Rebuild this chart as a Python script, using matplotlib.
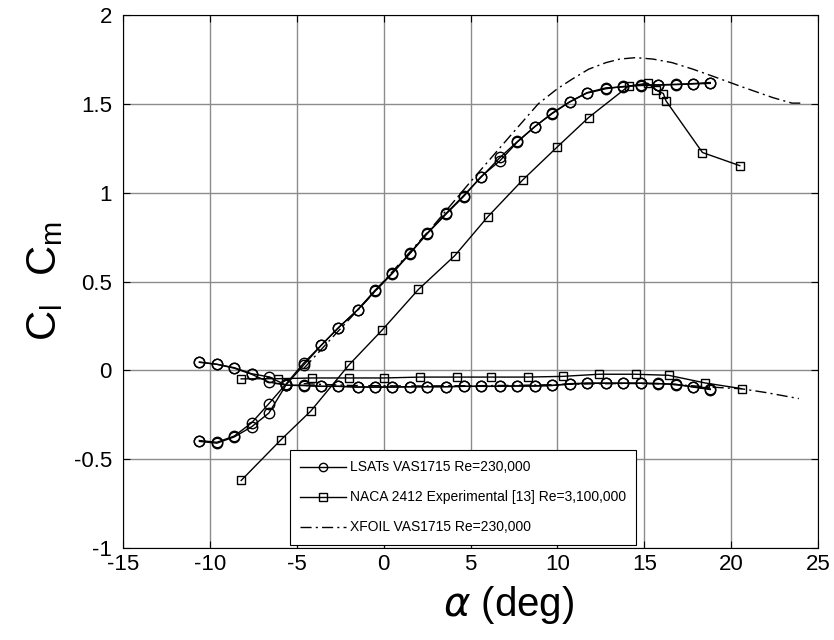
import matplotlib
matplotlib.use("Agg")
import matplotlib.pyplot as plt
from matplotlib.lines import Line2D

plt.rcParams['font.family'] = ['Liberation Sans', 'DejaVu Sans']
plt.rcParams['mathtext.fontset'] = 'dejavusans'

# LSATs VAS1715, sweep up
lsat_alpha_up = [-10.6, -9.6, -8.6, -7.6, -6.6, -5.6, -4.6, -3.6, -2.6, -1.5, -0.5, 0.5, 1.5, 2.5, 3.6,
                 4.6, 5.6, 6.7, 7.7, 8.7, 9.7, 10.7, 11.7, 12.8, 13.8, 14.8, 15.8, 16.8, 17.8, 18.8]
lsat_cl_up = [-0.40, -0.41, -0.375, -0.318, -0.24, -0.08, 0.03, 0.14, 0.24, 0.34, 0.45, 0.549, 0.659, 0.771, 0.884,
              0.983, 1.086, 1.198, 1.288, 1.371, 1.448, 1.511, 1.563, 1.59, 1.595, 1.607, 1.607, 1.61, 1.614, 1.62]
lsat_cm_up = [0.047, 0.034, 0.015, -0.019, -0.037, -0.084, -0.084, -0.09, -0.09, -0.094, -0.094, -0.094, -0.092, -0.092, -0.092,
              -0.09, -0.09, -0.09, -0.088, -0.088, -0.085, -0.075, -0.072, -0.072, -0.072, -0.072, -0.075, -0.078, -0.094, -0.108]
# LSATs VAS1715, sweep down
lsat_alpha_dn = [18.8, 17.8, 16.8, 15.8, 14.8, 13.8, 12.8, 11.7, 10.7, 9.7, 8.7, 7.7, 6.7, 5.6, 4.6,
                 3.6, 2.5, 1.5, 0.5, -0.5, -1.5, -2.6, -3.6, -4.6, -5.6, -6.6, -7.6, -8.6, -9.6, -10.6]
lsat_cl_dn = [1.615, 1.612, 1.608, 1.605, 1.603, 1.598, 1.585, 1.56, 1.51, 1.445, 1.372, 1.285, 1.18, 1.09, 0.978,
              0.88, 0.768, 0.655, 0.545, 0.444, 0.34, 0.24, 0.14, 0.041, -0.075, -0.187, -0.296, -0.37, -0.405, -0.395]
lsat_cm_dn = [-0.105, -0.092, -0.08, -0.074, -0.073, -0.073, -0.073, -0.073, -0.078, -0.085, -0.088, -0.088, -0.09, -0.09, -0.09,
              -0.092, -0.092, -0.093, -0.094, -0.094, -0.094, -0.09, -0.09, -0.086, -0.084, -0.066, -0.022, 0.012, 0.034, 0.045]

# NACA 2412 experimental
naca_alpha_cl = [-8.2, -5.9, -4.2, -2.0, -0.1, 2.0, 4.1, 6.0, 8.0, 10.0, 11.8, 14.1, 15.2, 15.7, 16.1, 16.25, 18.35, 20.5]
naca_cl = [-0.62, -0.39, -0.23, 0.03, 0.225, 0.455, 0.646, 0.865, 1.071, 1.258, 1.423, 1.60, 1.616, 1.577, 1.558, 1.517, 1.226, 1.152]
naca_alpha_cm = [-8.2, -6.1, -4.1, -2.0, 0.0, 2.1, 4.2, 6.2, 8.3, 10.3, 12.4, 14.5, 16.4, 18.5, 20.6]
naca_cm = [-0.048, -0.047, -0.043, -0.043, -0.043, -0.038, -0.038, -0.038, -0.038, -0.034, -0.022, -0.022, -0.028, -0.071, -0.103]

# XFOIL VAS1715
xf_alpha_cl = [-4.6, -3.0, -1.0, 1.0, 3.0, 4.9, 7.2, 8.9, 10.0, 10.85, 11.8, 12.8, 13.6, 14.5, 15.5, 16.6, 17.8, 18.9, 20.5, 22.4, 23.5, 24.1]
xf_cl = [0.01, 0.18, 0.39, 0.61, 0.83, 1.05, 1.31, 1.50, 1.585, 1.639, 1.695, 1.732, 1.752, 1.76, 1.752, 1.732, 1.695, 1.657, 1.60, 1.535, 1.504, 1.504]
xf_alpha_cm = [-4.6, -2.0, 0.0, 2.0, 4.0, 6.0, 8.0, 10.0, 12.0, 14.0, 16.0, 17.5, 18.5, 19.5, 20.6, 22.0, 23.9]
xf_cm = [-0.075, -0.085, -0.087, -0.088, -0.087, -0.086, -0.084, -0.08, -0.076, -0.074, -0.076, -0.085, -0.092, -0.098, -0.104, -0.125, -0.159]

fig = plt.figure(figsize=(8.34, 6.4), dpi=100)
ax = fig.add_axes([123/834, 1 - 548/640, (818-123)/834, (548-15)/640])

mk_c = dict(marker='o', markersize=7.5, markerfacecolor='none', markeredgecolor='black', markeredgewidth=1.0)
mk_s = dict(marker='s', markersize=6, markerfacecolor='none', markeredgecolor='black', markeredgewidth=1.0)
dd = [8, 3, 1.5, 3]

ax.plot(lsat_alpha_up, lsat_cl_up, color='black', lw=1.0, **mk_c)
ax.plot(lsat_alpha_dn, lsat_cl_dn, color='black', lw=1.0, **mk_c)
ax.plot(lsat_alpha_up, lsat_cm_up, color='black', lw=1.0, **mk_c)
ax.plot(lsat_alpha_dn, lsat_cm_dn, color='black', lw=1.0, **mk_c)
ax.plot(naca_alpha_cl, naca_cl, color='black', lw=1.0, **mk_s)
ax.plot(naca_alpha_cm, naca_cm, color='black', lw=1.0, **mk_s)
ax.plot(xf_alpha_cl, xf_cl, color='black', lw=1.0, dashes=dd)
ax.plot(xf_alpha_cm, xf_cm, color='black', lw=1.0, dashes=dd)

ax.set_xlim(-15, 25)
ax.set_ylim(-1, 2)
ax.set_xticks([-15, -10, -5, 0, 5, 10, 15, 20, 25])
ax.set_yticks([-1, -0.5, 0, 0.5, 1, 1.5, 2])
ax.set_yticklabels(['-1', '-0.5', '0', '0.5', '1', '1.5', '2'])
ax.set_xticklabels(['-15', '-10', '-5', '0', '5', '10', '15', '20', '25'])
ax.grid(True, color='#8c8c8c', lw=1.0)
ax.set_axisbelow(True)
ax.tick_params(direction='in', top=True, right=True, labelsize=16, length=5, width=0.8)
ax.tick_params(axis='x', pad=4)
ax.tick_params(axis='y', pad=8)
for s in ax.spines.values():
    s.set_color('black')
    s.set_linewidth(0.8)

ax.set_xlabel(r'$\alpha$ (deg)', fontsize=29)
ax.xaxis.set_label_coords((509 - 123) / 695, -(584 - 548) / 533)
ax.set_ylabel(r'$\mathregular{C_l\ \ C_m}$', fontsize=30, labelpad=6)

handles = [Line2D([], [], color='black', lw=1.0, **mk_c),
           Line2D([], [], color='black', lw=1.0, **mk_s),
           Line2D([], [], color='black', lw=1.0, dashes=dd)]
labels = ['LSATs VAS1715 Re=230,000', 'NACA 2412 Experimental [13] Re=3,100,000', 'XFOIL VAS1715 Re=230,000']
leg = ax.legend(handles, labels, loc='lower left', bbox_to_anchor=(0.24, 0.006), borderaxespad=0,
                prop={'size': 10},
                handlelength=3.3, handletextpad=0.25, labelspacing=1.15, borderpad=0.75,
                fancybox=False, framealpha=1, edgecolor='black')
leg.get_frame().set_linewidth(0.8)
for h in leg.legend_handles:
    h.set_markersize(6)

fig.savefig('out.png', dpi=100)
